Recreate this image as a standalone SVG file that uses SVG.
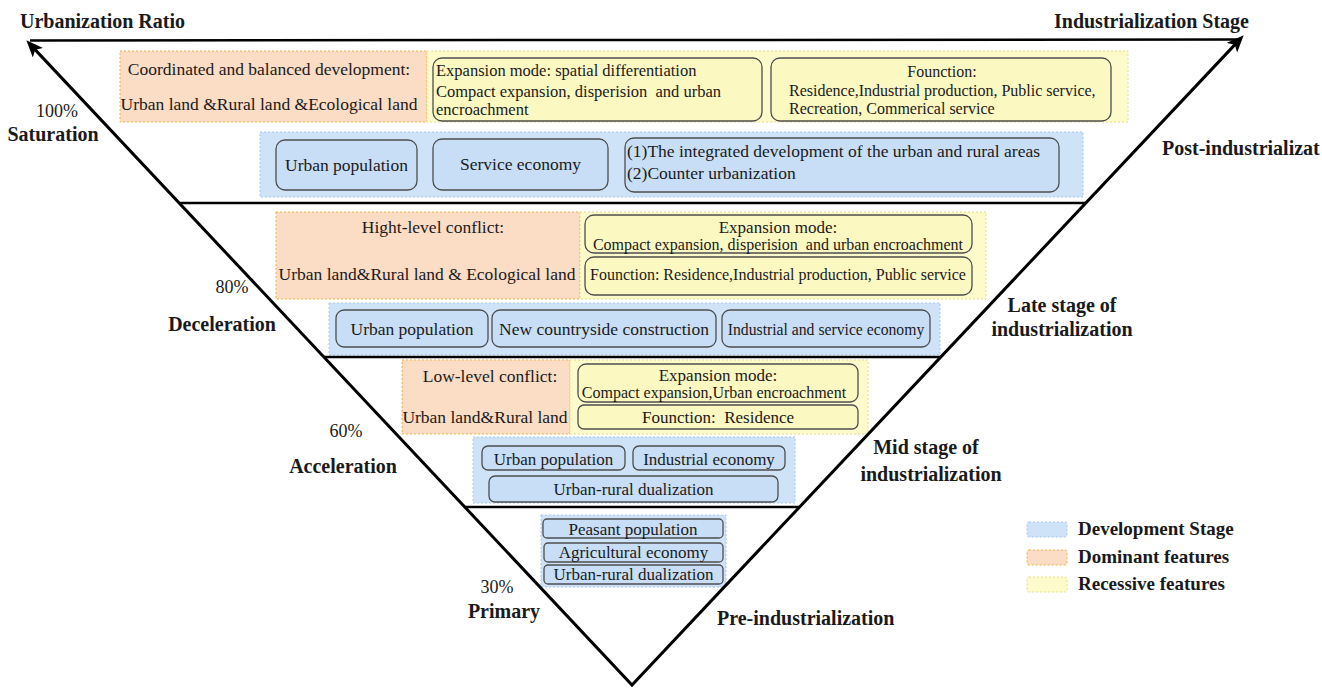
<svg xmlns="http://www.w3.org/2000/svg" width="1322" height="689" viewBox="0 0 1322 689">
<style>
text{font-family:"Liberation Serif","Times New Roman",serif;fill:#1a1a1a}
.b{font-weight:bold;font-size:20px}
.s{font-size:17.5px}
.m{font-size:16px}
.p{font-size:17px}
.c{text-anchor:middle}
.rb{fill:#cfe3f8;stroke:#a8c8ec;stroke-width:1;stroke-dasharray:2 2}
.ro{fill:#fbdcc4;stroke:#eeb340;stroke-width:1;stroke-dasharray:2 2}
.ry{fill:#fdfbcc;stroke:#e6dc82;stroke-width:1;stroke-dasharray:2 2}
.nb{fill:#c8def6;stroke:#4d4d4d;stroke-width:1.3}
.ny{fill:#fcf8c2;stroke:#4d4d4d;stroke-width:1.3}
.edge{fill:none;stroke:#000;stroke-width:3}
.band{fill:none;stroke:#000;stroke-width:2.5}
</style>
<defs>
<marker id="ah" markerUnits="userSpaceOnUse" markerWidth="20" markerHeight="16" refX="10" refY="7" orient="auto-start-reverse">
<path d="M0,0 L17,7 L0,14 L4,7 z" fill="#000"/>
</marker>
</defs>
<rect width="1322" height="689" fill="#fff"/>

<g id="titles">
<text class="b" x="20" y="28">Urbanization Ratio</text>
<text class="b" x="1249" y="28" text-anchor="end">Industrialization Stage</text>
</g>

<!-- Band 1 -->
<g id="saturation-dominant">
<rect class="ro" x="120" y="51" width="307" height="71"/>
<text class="s c" x="269" y="75">Coordinated and balanced development:</text>
<text class="s c" x="269" y="110">Urban land &amp;Rural land &amp;Ecological land</text>
</g>
<g id="saturation-recessive">
<rect class="ry" x="427" y="51" width="701" height="71"/>
<rect class="ny" x="433" y="58" width="329" height="63" rx="9"/>
<text class="s" x="436" y="76" style="font-size:16.5px" xml:space="preserve">Expansion mode: spatial differentiation</text>
<text class="s" x="436" y="97" style="font-size:16.5px" xml:space="preserve">Compact expansion, disperision  and urban</text>
<text class="s" x="436" y="115" style="font-size:16.5px">encroachment</text>
<rect class="ny" x="771" y="58" width="340" height="63" rx="9"/>
<text class="m c" x="942" y="77">Founction:</text>
<text class="m" x="789" y="96">Residence,Industrial production, Public service,</text>
<text class="m" x="789" y="114">Recreation, Commerical service</text>
</g>
<g id="saturation-stage">
<rect class="rb" x="260" y="132" width="823" height="65"/>
<rect class="nb" x="276" y="140" width="141" height="50" rx="9"/>
<text class="s c" x="346.5" y="171">Urban population</text>
<rect class="nb" x="433" y="139" width="175" height="51" rx="9"/>
<text class="s c" x="520.5" y="170">Service economy</text>
<rect class="nb" x="625" y="138" width="434" height="54" rx="9"/>
<text class="s" x="627" y="157">(1)The integrated development of the urban and rural areas</text>
<text class="s" x="627" y="179">(2)Counter urbanization</text>
</g>

<!-- Band 2 -->
<g id="deceleration-dominant">
<rect class="ro" x="276" y="212" width="304" height="87"/>
<text class="s c" x="433" y="233">Hight-level conflict:</text>
<text class="s c" x="427" y="280">Urban land&amp;Rural land &amp; Ecological land</text>
</g>
<g id="deceleration-recessive">
<rect class="ry" x="580" y="212" width="406" height="87"/>
<rect class="ny" x="585" y="215" width="387" height="38" rx="9"/>
<text class="p c" x="778" y="233">Expansion mode:</text>
<text class="m c" x="778" y="250" xml:space="preserve">Compact expansion, disperision  and urban encroachment</text>
<rect class="ny" x="585" y="257" width="387" height="38" rx="9"/>
<text class="m c" x="778" y="280">Founction: Residence,Industrial production, Public service</text>
</g>
<g id="deceleration-stage">
<rect class="rb" x="329" y="303" width="611" height="52"/>
<rect class="nb" x="336" y="310" width="152" height="37" rx="8"/>
<text class="s c" x="412" y="335">Urban population</text>
<rect class="nb" x="492" y="310" width="224" height="37" rx="8"/>
<text class="s c" x="604" y="335">New countryside construction</text>
<rect class="nb" x="722" y="310" width="208" height="37" rx="8"/>
<text class="c" x="826" y="335" style="font-size:15.7px">Industrial and service economy</text>
</g>

<!-- Band 3 -->
<g id="acceleration-dominant">
<rect class="ro" x="402" y="360" width="168" height="74"/>
<text class="s c" x="490" y="382">Low-level conflict:</text>
<text class="s c" x="485" y="423">Urban land&amp;Rural land</text>
</g>
<g id="acceleration-recessive">
<rect class="ry" x="570" y="360" width="298" height="74"/>
<rect class="ny" x="578" y="364" width="280" height="38" rx="8"/>
<text class="p c" x="718" y="381">Expansion mode:</text>
<text class="m c" x="714" y="398">Compact expansion,Urban encroachment</text>
<rect class="ny" x="578" y="405" width="280" height="24" rx="6"/>
<text class="p c" x="718" y="423" xml:space="preserve">Founction:  Residence</text>
</g>
<g id="acceleration-stage">
<rect class="rb" x="473" y="437" width="322" height="66"/>
<rect class="nb" x="482" y="446" width="143" height="24" rx="6"/>
<text class="p c" x="553.5" y="465">Urban population</text>
<rect class="nb" x="633" y="446" width="152" height="24" rx="6"/>
<text class="p c" x="709" y="465">Industrial economy</text>
<rect class="nb" x="489" y="476" width="289" height="26" rx="6"/>
<text class="p c" x="633.5" y="495">Urban-rural dualization</text>
</g>

<!-- Band 4 -->
<g id="primary-stage">
<rect class="rb" x="541" y="515" width="185" height="72"/>
<rect class="nb" x="543" y="519" width="180" height="19" rx="4"/>
<text class="p c" x="633" y="535">Peasant population</text>
<rect class="nb" x="544" y="543" width="179" height="19" rx="4"/>
<text class="p c" x="633.5" y="558">Agricultural economy</text>
<rect class="nb" x="544" y="565" width="179" height="19" rx="4"/>
<text class="p c" x="633.5" y="580">Urban-rural dualization</text>
</g>

<g id="connectors">
<path class="edge" d="M31.1,45.4 L632,685 L1238.9,40.4" stroke-linejoin="miter" marker-start="url(#ah)" marker-end="url(#ah)"/>
<path class="band" d="M30,40.5 L1238,39.5"/>
<path class="band" d="M179,203 L1086,203"/>
<path class="band" d="M324,357 L941,357"/>
<path class="band" d="M465,507 L800,507"/>
</g>

<g id="ratio-labels">
<text class="p c" x="57" y="117" style="font-size:18px">100%</text>
<text class="b c" x="53" y="141">Saturation</text>
<text class="p c" x="232" y="293" style="font-size:18px">80%</text>
<text class="b c" x="222" y="331">Deceleration</text>
<text class="p c" x="346" y="437" style="font-size:18px">60%</text>
<text class="b c" x="343" y="473">Acceleration</text>
<text class="p c" x="497" y="593" style="font-size:18px">30%</text>
<text class="b c" x="504" y="618">Primary</text>
</g>

<g id="stage-labels">
<text class="b" x="1162" y="155">Post-industrializat</text>
<text class="b c" x="1062" y="312">Late stage of</text>
<text class="b c" x="1062" y="336">industrialization</text>
<text class="b c" x="926" y="454">Mid stage of</text>
<text class="b c" x="931" y="481">industrialization</text>
<text class="b" x="717" y="625">Pre-industrialization</text>
</g>

<g id="legend">
<rect class="rb" x="1027" y="522" width="40" height="15" rx="2"/>
<text class="b" x="1078" y="535" style="font-size:19px">Development Stage</text>
<rect class="ro" x="1027" y="550" width="40" height="15" rx="2"/>
<text class="b" x="1078" y="563" style="font-size:19px">Dominant features</text>
<rect class="ry" x="1027" y="577" width="40" height="15" rx="2"/>
<text class="b" x="1078" y="590" style="font-size:19px">Recessive features</text>
</g>
</svg>
